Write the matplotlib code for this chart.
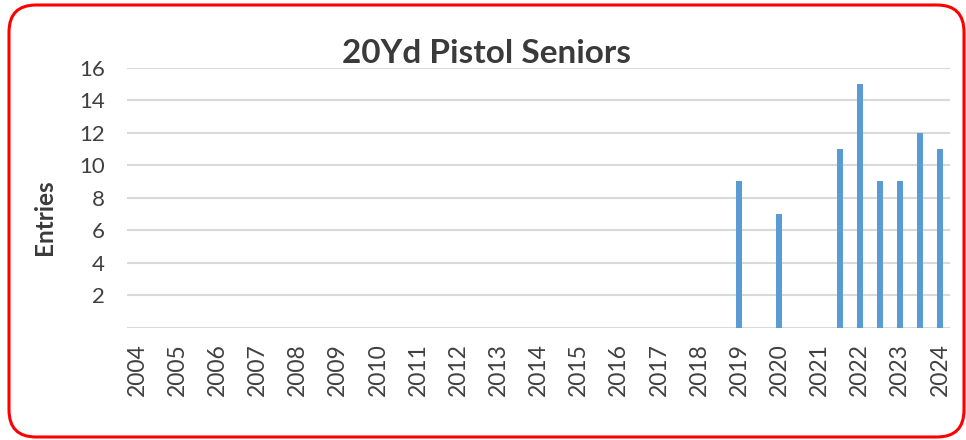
import matplotlib.pyplot as plt
from matplotlib.patches import FancyBboxPatch

# event positions on the year axis (some years had two shoots)
event_pos = [2019, 2020, 2021.5, 2022, 2022.5, 2023, 2023.5, 2024]
entries = [9, 7, 11, 15, 9, 9, 12, 11]
year_labels = list(range(2004, 2025))
y_ticks = [2, 4, 6, 8, 10, 12, 14, 16]

plt.rcParams['font.family'] = ['Lato', 'DejaVu Sans']

fig = plt.figure(figsize=(9.66, 4.4), dpi=100)
ax = fig.add_axes([0.1315, 0.2553, 0.8519, 0.5908])

# grid lines
for g in [0] + y_ticks:
    ax.axhline(g, color='#d9d9d9', lw=1.5, zorder=0)

ax.bar(event_pos, entries, width=0.15, color='#5b9bd5', zorder=2)

ax.set_xlim(2003.75, 2024.25)
ax.set_ylim(0, 16)
ax.set_xticks(year_labels)
ax.set_xticklabels([str(y) for y in year_labels], rotation=90, fontsize=16.5, color='#404040')
ax.set_yticks(y_ticks)
ax.set_yticklabels([str(t) for t in y_ticks], fontsize=16, color='#404040')
ax.tick_params(axis='both', length=0)
ax.tick_params(axis='y', pad=16)
ax.tick_params(axis='x', pad=11)
for s in ax.spines.values():
    s.set_visible(False)

fig.text(487 / 966, 1 - 63 / 440, '20Yd Pistol Seniors', ha='center', va='baseline',
         fontsize=24, fontweight='bold', color='#3a3a3a')
fig.text(44 / 966, 1 - 217 / 440, 'Entries', ha='center', va='center', rotation=90,
         fontsize=17.5, fontweight='bold', color='#3a3a3a')

# red rounded frame
frame = FancyBboxPatch((9 / 966, 3 / 440), 955 / 966, 432 / 440,
                       boxstyle='round,pad=0,rounding_size=0.028',
                       transform=fig.transFigure, fill=False,
                       edgecolor='#ff0000', lw=2.2, mutation_aspect=966 / 440)
fig.patches.append(frame)

fig.savefig('out.png', dpi=100)
